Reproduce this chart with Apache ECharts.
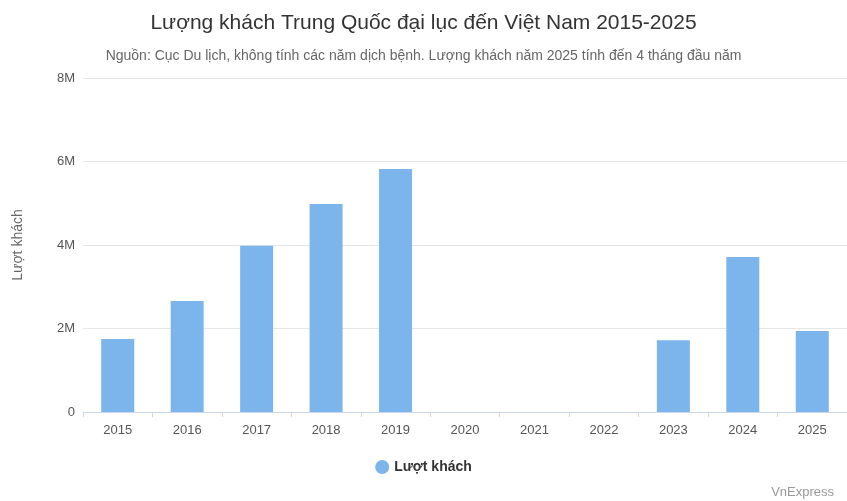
<!DOCTYPE html>
<html><head><meta charset="utf-8">
<script src="https://cdn.jsdelivr.net/npm/echarts@6/dist/echarts.min.js"></script>
<style>html,body{margin:0;padding:0;background:#fff}#c{width:847px;height:501px}</style>
</head><body><div id="c"></div>
<script>
const categories = ['2015','2016','2017','2018','2019','2020','2021','2022','2023','2024','2025'];
const visitors = [1750000,2660000,3980000,4980000,5820000,0,0,0,1720000,3710000,1940000];
const seriesName = 'Lượt khách';
const chart = echarts.init(document.getElementById('c'));
chart.setOption({
  animation:false,
  textStyle:{fontFamily:'Liberation Sans, Arial, sans-serif'},
  title:[{text:'Lượng khách Trung Quốc đại lục đến Việt Nam 2015-2025',left:'center',top:8,
    textStyle:{fontSize:21,fontWeight:'normal',color:'#333'}},
    {text:'Nguồn: Cục Du lịch, không tính các năm dịch bệnh. Lượng khách năm 2025 tính đến 4 tháng đầu năm',
    left:'center',top:44,textStyle:{fontSize:14,fontWeight:'normal',color:'#666'}},
    {text:'VnExpress',right:8,top:481,textStyle:{fontSize:13,fontWeight:'normal',color:'#999'}}],
  legend:{bottom:22,left:'center',itemWidth:14,itemHeight:14,icon:'circle',
    textStyle:{fontSize:14,fontWeight:'bold',color:'#333'}},
  grid:{left:83,width:768,top:78,bottom:89},
  xAxis:{type:'category',data:categories,axisTick:{show:true,alignWithLabel:false,lineStyle:{color:'#ccd6eb'}},
    axisLine:{lineStyle:{color:'#ccd6eb'}},axisLabel:{color:'#555',fontSize:13,margin:12}},
  yAxis:{type:'value',min:0,max:8000000,interval:2000000,name:'Lượt khách',nameLocation:'middle',nameGap:58,
    nameTextStyle:{color:'#666',fontSize:14},
    axisLabel:{color:'#555',fontSize:13,formatter:v=>v===0?'0':(v/1e6)+'M'},
    splitLine:{lineStyle:{color:'#e6e6e6'}}},
  series:[{name:seriesName,type:'bar',data:visitors,barWidth:33,itemStyle:{color:'#7cb5ec'}}]
});
</script></body></html>
